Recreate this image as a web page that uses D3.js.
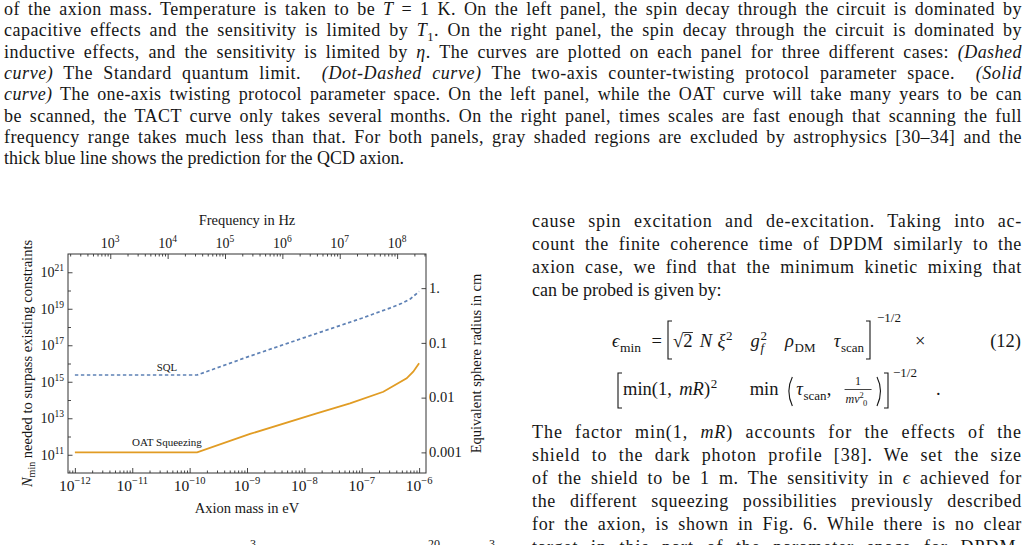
<!DOCTYPE html>
<html><head><meta charset="utf-8">
<script src="https://cdn.jsdelivr.net/npm/d3@7"></script>
<style>html,body{margin:0;padding:0;background:#fff;} svg{display:block;}</style>
</head><body>
<svg id="page" width="1029" height="545"></svg>
<script>
// ---------- chart data ----------
const massSQL = [1e-12, 1.35e-10, 1e-9, 1e-8, 1e-7, 3.16e-7, 5e-7, 7.1e-7, 1e-6];
const nSQL    = [2.34e15, 2.34e15, 2.24e16, 2.63e17, 3.02e18, 1.12e19, 2.0e19, 3.55e19, 8.9e19];
const massOAT = [1e-12, 1.35e-10, 1.13e-9, 1.64e-8, 6.24e-8, 2.38e-7, 6.07e-7, 7.9e-7, 1e-6];
const nOAT    = [1.35e11, 1.35e11, 1.38e12, 1.86e13, 6.6e13, 2.82e14, 1.55e15, 3.55e15, 1.02e16];
const massTickExp = [-12, -11, -10, -9, -8, -7, -6];
const freqTickExp = [3, 4, 5, 6, 7, 8];
const nTickExp = [11, 13, 15, 17, 19, 21];
const nMinorExp = [10, 12, 14, 16, 18, 20, 22];
const radiusTicks = [1, 0.1, 0.01, 0.001];
const radiusLabels = ["1.", "0.1", "0.01", "0.001"];
const HZ_PER_EV = 2.418e14;
const LOGN_AT_1CM = 20.13;

// ---------- page text ----------
const captionLines = [
  [["of the axion mass. Temperature is taken to be "],["T","i"],[" = 1 K. On the left panel, the spin decay through the circuit is dominated by"]],
  [["capacitive effects and the sensitivity is limited by "],["T","i"],["1","sub"],[". On the right panel, the spin decay through the circuit is dominated by"]],
  [["inductive effects, and the sensitivity is limited by "],["η","i"],[". The curves are plotted on each panel for three different cases: "],["(Dashed","i"]],
  [["curve)","i"],[" The Standard quantum limit.  "],["(Dot-Dashed curve)","i"],[" The two-axis counter-twisting protocol parameter space.  "],["(Solid","i"]],
  [["curve)","i"],[" The one-axis twisting protocol parameter space. On the left panel, while the OAT curve will take many years to be can"]],
  [["be scanned, the TACT curve only takes several months. On the right panel, times scales are fast enough that scanning the full"]],
  [["frequency range takes much less than that. For both panels, gray shaded regions are excluded by astrophysics [30–34] and the"]],
  [["thick blue line shows the prediction for the QCD axion."]]
];
const bodyTop = [
  [["cause spin excitation and de-excitation. Taking into ac-"]],
  [["count the finite coherence time of DPDM similarly to the"]],
  [["axion case, we find that the minimum kinetic mixing that"]],
  [["can be probed is given by:"]]
];
const bodyBottom = [
  [["The factor min(1, "],["mR","i"],[") accounts for the effects of the"]],
  [["shield to the dark photon profile [38]. We set the size"]],
  [["of the shield to be 1 m. The sensitivity in "],["ϵ","i"],[" achieved for"]],
  [["the different squeezing possibilities previously described"]],
  [["for the axion, is shown in Fig. 6. While there is no clear"]],
  [["target in this part of the parameter space for DPDM,"]]
];

const SERIF = "'Liberation Serif', 'Times New Roman', serif";
const INK = "#161616";
const svg = d3.select("#page");
svg.append("rect").attr("width",1029).attr("height",545).attr("fill","#fff");

function renderLine(parent, segs, x, y, w, justify, fs){
  const t = parent.append("text").attr("x",x).attr("y",y)
    .attr("font-size",fs).attr("font-family",SERIF).attr("fill",INK)
    .style("white-space","pre");
  let pending = 0, full = "";
  segs.forEach(s => {
    const str = s[0], st = s[1] || "n";
    const sp = t.append("tspan").text(str);
    full += str;
    let dy = pending;
    if (st === "sub"){ dy += fs*0.25; sp.attr("font-size", fs*0.7); pending = -fs*0.25; }
    else pending = 0;
    if (dy) sp.attr("dy", dy);
    if (st === "i") sp.attr("font-style","italic");
  });
  if (justify){
    const L = t.node().getComputedTextLength();
    const extra = w - L;
    const nSp = (full.match(/ /g) || []).length;
    const nCh = full.length;
    const ls = extra*0.45/nCh;
    const ws = nSp ? extra*0.55/nSp : 0;
    t.attr("letter-spacing", ls).attr("word-spacing", ws);
  }
  return t;
}

const txt = svg.append("g");
captionLines.forEach((l,i) => renderLine(txt, l, 4, 15 + i*21.3, 1018, i < 7, 18));
bodyTop.forEach((l,i) => renderLine(txt, l, 532, 227 + i*23, 490, i < 3, 18));
bodyBottom.forEach((l,i) => renderLine(txt, l, 532, 437.5 + i*23, 490, true, 18));

// fragments of the cut-off line in the left column
[[250,"3"],[428,"20"],[489,"3"]].forEach(d =>
  txt.append("text").attr("x",d[0]).attr("y",548).attr("font-size",12)
    .attr("font-family",SERIF).attr("fill",INK).text(d[1]));

// ---------- equation ----------
const eq = svg.append("g").attr("font-family",SERIF).attr("fill",INK);
function T(x,y,s,fs,it,anchor){
  const t = eq.append("text").attr("x",x).attr("y",y).attr("font-size",fs||18).text(s);
  if (it) t.attr("font-style","italic");
  if (anchor) t.attr("text-anchor",anchor);
  return t;
}
function P(d,w){ eq.append("path").attr("d",d).attr("fill","none").attr("stroke",INK).attr("stroke-width",w||1.1); }
// sequential layout: distributes the free space over the weighted gaps
function layout(tokens, x0, x1, y){
  tokens.forEach(tk => {
    if (tk.k === "box"){ tk.w = tk.width; return; }
    const fs = tk.fs || (tk.k ? 13 : 18.5);
    const dy = tk.k === "sub" ? 4.5 : tk.k === "sup" ? -7.5 : 0;
    tk.el = eq.append("text").attr("y", y + dy).attr("font-size", fs).text(tk.t);
    if (tk.it) tk.el.attr("font-style","italic");
    tk.w = tk.el.node().getComputedTextLength();
  });
  function place(unit){
    let c = x0, prev = null;
    tokens.forEach(tk => {
      const g = (tk.gap || 0)*unit;
      if (tk.stack && prev){ tk.x = prev.x; c = Math.max(c, tk.x + tk.w); }
      else { tk.x = c + g + (tk.k === "sub" || tk.k === "sup" ? 0.6 : 0); c = tk.x + tk.w; }
      prev = tk;
    });
    return c;
  }
  const natural = place(0) - x0;
  const gsum = d3.sum(tokens, tk => tk.stack ? 0 : (tk.gap || 0));
  const unit = gsum ? Math.max(0, (x1 - x0 - natural)/gsum) : 0;
  place(unit);
  tokens.forEach(tk => {
    if (tk.el) tk.el.attr("x", tk.x);
    if (tk.draw) tk.draw(tk.x, y);
    if (tk.over) P(`M${tk.x - 0.5} ${y - 14.5} L${tk.x + tk.w + 0.5} ${y - 14.5}`, 0.9);
  });
}
// line 1
const Y1 = 347, Y2 = 395;
layout([{t:"ϵ",it:true},{t:"min",k:"sub",fs:13.5},{t:"=",gap:1}], 612, 662, Y1);
P(`M672 ${Y1-26} L668 ${Y1-26} L668 ${Y1+12} L672 ${Y1+12}`);
layout([
  {t:"√"},{t:"2",over:true},{t:"N",it:true,gap:0.4},{t:"ξ",it:true,gap:0.3},{t:"2",k:"sup"},
  {t:"g",it:true,gap:1},{t:"f",k:"sub",it:true},{t:"2",k:"sup",stack:true},
  {t:"ρ",it:true,gap:1},{t:"DM",k:"sub"},{t:"τ",it:true,gap:1},{t:"scan",k:"sub"}
], 673, 864, Y1);
P(`M866 ${Y1-26} L870 ${Y1-26} L870 ${Y1+12} L866 ${Y1+12}`);
T(877,Y1-25,"−1/2",13);
T(915,Y1,"×",18.5);
T(1021,Y1,"(12)",18.5,false,"end");
// line 2
P(`M622 ${Y2-22} L618 ${Y2-22} L618 ${Y2+13} L622 ${Y2+13}`);
layout([
  {t:"min(1,"},{t:"mR",it:true,gap:0.5},{t:")"},{t:"2",k:"sup"},
  {t:"min",gap:2.2},
  {k:"box",width:6,gap:0.6,draw:(x,y)=>P(`M${x+5} ${y-18} Q${x-2} ${y-4} ${x+5} ${y+11}`)},
  {t:"τ",it:true,gap:0.2},{t:"scan",k:"sub"},{t:",",gap:0},
  {k:"box",width:27,gap:0.9,draw:(x,y)=>{
    T(x+13.5,y-10,"1",12,false,"middle");
    P(`M${x} ${y-5.5} L${x+27} ${y-5.5}`,0.8);
    const fr = eq.append("text").attr("x",x+1).attr("y",y+8).attr("font-size",12);
    fr.append("tspan").attr("font-style","italic").text("mv");
    fr.append("tspan").attr("font-size",8.5).attr("dy",-5).text("2");
    eq.append("text").attr("x",x+18.5).attr("y",y+11).attr("font-size",8.5).text("0");
  }},
  {k:"box",width:6,gap:0.3,draw:(x,y)=>P(`M${x+1} ${y-18} Q${x+8} ${y-4} ${x+1} ${y+11}`)}
], 623, 882, Y2);
P(`M884 ${Y2-22} L888 ${Y2-22} L888 ${Y2+13} L884 ${Y2+13}`);
T(893,Y2-18,"−1/2",13);
T(936,Y2,".",18.5);

// ---------- chart ----------
const L = 68, R = 426, TOP = 254, BOT = 473;
const x = d3.scaleLog().domain([Math.pow(10,-12.12), Math.pow(10,-5.88)]).range([L,R]);
const y = d3.scaleLog().domain([1e10, 1e22]).range([BOT,TOP]);
const xf = d3.scaleLog().domain(x.domain().map(v => v*HZ_PER_EV)).range([L,R]);
const yr = d3.scaleLog().domain(y.domain().map(v => Math.pow(10,(Math.log10(v)-LOGN_AT_1CM)/3))).range([BOT,TOP]);

const ch = svg.append("g");
const AX = "#333";

function minorsFor(scale){
  const [a,b] = scale.domain(); const out = [];
  for (let e = Math.floor(Math.log10(a)); e <= Math.ceil(Math.log10(b)); e++)
    for (let k = 2; k <= 9; k++){ const v = k*Math.pow(10,e); if (v > a && v < b) out.push(v); }
  return out;
}
function tickAxis(axisFn, scale, vals, len, tx, ty){
  const g = ch.append("g").attr("transform",`translate(${tx},${ty})`)
    .call(axisFn(scale).tickValues(vals).tickSize(-len).tickFormat(""));
  g.select(".domain").remove();
  g.selectAll(".tick line").attr("stroke",AX).attr("stroke-width",0.9);
  return g;
}
const massMajor = massTickExp.map(e => Math.pow(10,e));
const freqMajor = freqTickExp.map(e => Math.pow(10,e));
tickAxis(d3.axisBottom, x, massMajor, 5, 0, BOT);
tickAxis(d3.axisBottom, x, minorsFor(x), 2.5, 0, BOT);
tickAxis(d3.axisTop, xf, freqMajor, 5, 0, TOP);
tickAxis(d3.axisTop, xf, minorsFor(xf), 2.5, 0, TOP);
tickAxis(d3.axisLeft, y, nTickExp.map(e => Math.pow(10,e)), 4.5, L, 0);
tickAxis(d3.axisLeft, y, nMinorExp.map(e => Math.pow(10,e)).filter(v => v>y.domain()[0] && v<y.domain()[1]), 3, L, 0);
tickAxis(d3.axisRight, yr, radiusTicks, 4.5, R, 0);

ch.append("rect").attr("x",L).attr("y",TOP).attr("width",R-L).attr("height",BOT-TOP)
  .attr("fill","none").attr("stroke",AX).attr("stroke-width",1);

// tick labels
function powLabel(px, py, exp, fs, anchor, dy){
  const t = ch.append("text").attr("x",px).attr("y",py).attr("font-family",SERIF)
    .attr("font-size",fs).attr("fill",INK).attr("text-anchor",anchor);
  t.append("tspan").text("10");
  t.append("tspan").attr("dy",-dy).attr("font-size",fs*0.68).text(String(exp).replace("-","−"));
}
massTickExp.forEach(e => powLabel(x(Math.pow(10,e)), 491, e, 15.5, "middle", 7));
freqTickExp.forEach(e => powLabel(xf(Math.pow(10,e)), 248, e, 14, "middle", 6));
nTickExp.forEach(e => powLabel(64, y(Math.pow(10,e))+5.2, e, 14, "end", 6));
radiusTicks.forEach((v,i) => ch.append("text").attr("x",429).attr("y",yr(v)+4.8)
  .attr("font-family",SERIF).attr("font-size",14.5).attr("fill",INK).text(radiusLabels[i]));

// axis titles
const mid = (L+R)/2, vmid = (TOP+BOT)/2;
ch.append("text").attr("x",mid).attr("y",225).attr("text-anchor","middle")
  .attr("font-family",SERIF).attr("font-size",14.5).attr("fill",INK).text("Frequency in Hz");
ch.append("text").attr("x",mid).attr("y",513).attr("text-anchor","middle")
  .attr("font-family",SERIF).attr("font-size",14.5).attr("fill",INK).text("Axion mass in eV");
const yl = ch.append("text").attr("transform",`translate(32,${vmid}) rotate(-90)`).attr("text-anchor","middle")
  .attr("font-family",SERIF).attr("font-size",14.5).attr("fill",INK);
yl.append("tspan").attr("font-style","italic").text("N");
yl.append("tspan").attr("font-size",10).attr("dy",3).text("min");
yl.append("tspan").attr("dy",-3).text(" needed to surpass existing constraints");
ch.append("text").attr("transform",`translate(481,${vmid}) rotate(-90)`).attr("text-anchor","middle")
  .attr("font-family",SERIF).attr("font-size",14.5).attr("fill",INK).text("Equivalent sphere radius in cm");

// curves
const line = d3.line().x(d => x(d[0])).y(d => y(d[1]));
ch.append("path").datum(massSQL.map((m,i) => [m, nSQL[i]])).attr("d",line)
  .attr("fill","none").attr("stroke","#5E81B5").attr("stroke-width",1.7).attr("stroke-dasharray","3.4,2.6");
ch.append("path").datum(massOAT.map((m,i) => [m, nOAT[i]])).attr("d",line)
  .attr("fill","none").attr("stroke","#E19C24").attr("stroke-width",1.8);

// curve labels
ch.append("text").attr("x",167).attr("y",370.5).attr("text-anchor","middle")
  .attr("font-family",SERIF).attr("font-size",10.8).attr("fill",INK).text("SQL");
ch.append("text").attr("x",167).attr("y",445.5).attr("text-anchor","middle")
  .attr("font-family",SERIF).attr("font-size",11).attr("fill",INK).text("OAT Squeezing");
</script>
</body></html>
